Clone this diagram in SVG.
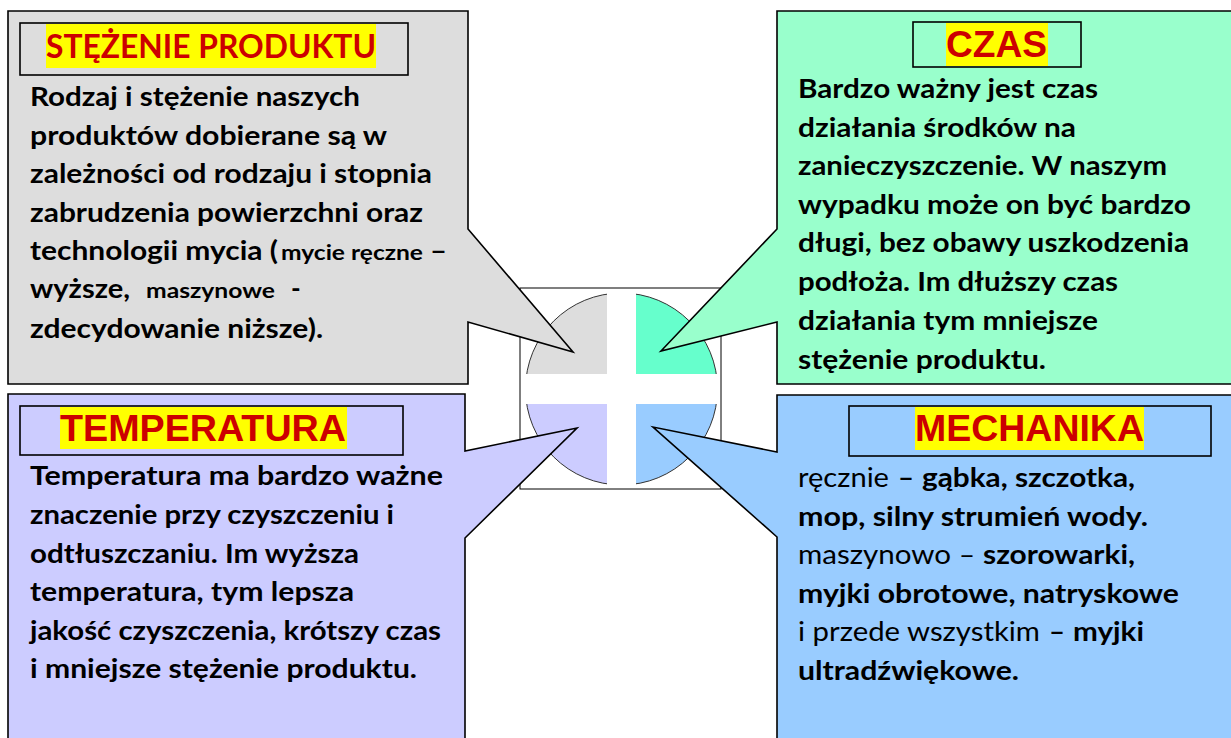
<svg xmlns="http://www.w3.org/2000/svg" width="1231" height="738" viewBox="0 0 1231 738">
<style>
.box{stroke:#000;stroke-width:1.6;stroke-linejoin:miter}
.hdr{fill:none;stroke:#000;stroke-width:1.6}
.hl{fill:#ffff00}
.t{font-family:"Liberation Sans",Arial,sans-serif;font-weight:bold;font-size:37px;fill:#cc0000}
.tc{font-family:Lato,"Open Sans",sans-serif;font-weight:bold;font-size:32px;fill:#cc0000}
.b{font-family:Lato,"Open Sans",sans-serif;font-weight:bold;font-size:26px;fill:#000}
.s{font-family:Lato,"Open Sans",sans-serif;font-weight:bold;font-size:21px;fill:#000}
.r{font-family:Lato,"Open Sans",sans-serif;font-weight:normal;font-size:26px;fill:#000}
</style>
<defs>
<clipPath id="clipG"><rect x="777" y="11" width="460" height="362"/></clipPath>
</defs>
<rect width="1231" height="738" fill="#fff"/>
<g id="center">
<rect x="520" y="288" width="201" height="201" fill="#fff" stroke="#000" stroke-width="1"/>
<path d="M621.5,389 L525.5,389 A96,96 0 0 1 621.5,293 Z" fill="#dddddd"/>
<path d="M621.5,389 L621.5,293 A96,96 0 0 1 717.5,389 Z" fill="#66ffcc"/>
<path d="M621.5,389 L525.5,389 A96,96 0 0 0 621.5,485 Z" fill="#ccccff"/>
<path d="M621.5,389 L621.5,485 A96,96 0 0 0 717.5,389 Z" fill="#99ccff"/>
<circle cx="621.5" cy="389" r="96" fill="none" stroke="#333" stroke-width="1"/>
<rect x="607" y="290" width="29" height="198" fill="#fff"/>
<rect x="522" y="374" width="198" height="30" fill="#fff"/>
</g>
<g id="connectors"></g>
<g id="node-stezenie">
<path class="box" fill="#dddddd" d="M8,11 H468 V229 L573,352 L468,322 V384 H8 Z"/>
<rect class="hdr" x="20" y="23" width="388" height="52"/>
<rect class="hl" x="46" y="24" width="330" height="44"/>
<text class="tc" x="46" y="58" textLength="330" lengthAdjust="spacingAndGlyphs">STĘŻENIE PRODUKTU</text>
<text class="b" x="30" y="106" textLength="330" lengthAdjust="spacingAndGlyphs">Rodzaj i stężenie naszych</text>
<text class="b" x="30" y="145" textLength="357" lengthAdjust="spacingAndGlyphs">produktów dobierane są w</text>
<text class="b" x="30" y="183" textLength="402" lengthAdjust="spacingAndGlyphs">zależności od rodzaju i stopnia</text>
<text class="b" x="30" y="222" textLength="393" lengthAdjust="spacingAndGlyphs">zabrudzenia powierzchni oraz</text>
<text class="b" x="30" y="260" textLength="248" lengthAdjust="spacingAndGlyphs">technologii mycia (</text>
<text class="s" x="281" y="260" textLength="142" lengthAdjust="spacingAndGlyphs">mycie ręczne</text>
<text class="b" x="430" y="260" textLength="17" lengthAdjust="spacingAndGlyphs">–</text>
<text class="b" x="30" y="298" textLength="100" lengthAdjust="spacingAndGlyphs">wyższe,</text>
<text class="s" x="146" y="298" textLength="129" lengthAdjust="spacingAndGlyphs">maszynowe</text>
<text class="b" x="291" y="298">-</text>
<text class="b" x="30" y="338" textLength="293" lengthAdjust="spacingAndGlyphs">zdecydowanie niższe).</text>
</g>
<g id="node-czas">
<path class="box" fill="#99ffcc" d="M777,11 H1240 V384 H777 V322 L661,351 L777,229 Z"/>
<rect class="hdr" x="913" y="22" width="168" height="45"/>
<rect class="hl" x="946" y="23" width="102" height="43"/>
<text class="t" x="946" y="57" textLength="101" lengthAdjust="spacingAndGlyphs">CZAS</text>
<g clip-path="url(#clipG)">
<text class="b" x="798" y="98" textLength="300" lengthAdjust="spacingAndGlyphs">Bardzo ważny jest czas</text>
<text class="b" x="798" y="137" textLength="278" lengthAdjust="spacingAndGlyphs">działania środków na</text>
<text class="b" x="798" y="175" textLength="369" lengthAdjust="spacingAndGlyphs">zanieczyszczenie. W naszym</text>
<text class="b" x="798" y="214" textLength="393" lengthAdjust="spacingAndGlyphs">wypadku może on być bardzo</text>
<text class="b" x="798" y="252" textLength="391" lengthAdjust="spacingAndGlyphs">długi, bez obawy uszkodzenia</text>
<text class="b" x="798" y="291" textLength="320" lengthAdjust="spacingAndGlyphs">podłoża. Im dłuższy czas</text>
<text class="b" x="798" y="330" textLength="300" lengthAdjust="spacingAndGlyphs">działania tym mniejsze</text>
<text class="b" x="798" y="369" textLength="248" lengthAdjust="spacingAndGlyphs">stężenie produktu.</text>
</g>
</g>
<g id="node-temperatura">
<path class="box" fill="#ccccff" d="M8,394 H465 V451 L577,428 L465,538 V745 H8 Z"/>
<rect class="hdr" x="20" y="406" width="383" height="49"/>
<rect class="hl" x="60" y="407" width="287" height="42"/>
<text class="t" x="60" y="441" textLength="286" lengthAdjust="spacingAndGlyphs">TEMPERATURA</text>
<text class="b" x="30" y="485" textLength="413" lengthAdjust="spacingAndGlyphs">Temperatura ma bardzo ważne</text>
<text class="b" x="30" y="524" textLength="364" lengthAdjust="spacingAndGlyphs">znaczenie przy czyszczeniu i</text>
<text class="b" x="30" y="563" textLength="329" lengthAdjust="spacingAndGlyphs">odtłuszczaniu. Im wyższa</text>
<text class="b" x="30" y="601" textLength="324" lengthAdjust="spacingAndGlyphs">temperatura, tym lepsza</text>
<text class="b" x="30" y="640" textLength="411" lengthAdjust="spacingAndGlyphs">jakość czyszczenia, krótszy czas</text>
<text class="b" x="30" y="678" textLength="387" lengthAdjust="spacingAndGlyphs">i mniejsze stężenie produktu.</text>
</g>
<g id="node-mechanika">
<path class="box" fill="#99ccff" d="M777,395 H1240 V745 H777 V537 L653,427 L777,452 Z"/>
<rect class="hdr" x="849" y="406" width="362" height="50"/>
<rect class="hl" x="915" y="407" width="229" height="43"/>
<text class="t" x="915" y="441" textLength="229" lengthAdjust="spacingAndGlyphs">MECHANIKA</text>
<text class="r" x="798" y="487" textLength="91" lengthAdjust="spacingAndGlyphs">ręcznie</text>
<text class="b" x="898" y="487" textLength="16" lengthAdjust="spacingAndGlyphs">–</text>
<text class="b" x="922" y="487" textLength="213" lengthAdjust="spacingAndGlyphs">gąbka, szczotka,</text>
<text class="b" x="798" y="526" textLength="350" lengthAdjust="spacingAndGlyphs">mop, silny strumień wody.</text>
<text class="r" x="798" y="564" textLength="153" lengthAdjust="spacingAndGlyphs">maszynowo</text>
<text class="r" x="959" y="564" textLength="16" lengthAdjust="spacingAndGlyphs">–</text>
<text class="b" x="983" y="564" textLength="152" lengthAdjust="spacingAndGlyphs">szorowarki,</text>
<text class="b" x="798" y="603" textLength="381" lengthAdjust="spacingAndGlyphs">myjki obrotowe, natryskowe</text>
<text class="r" x="798" y="641" textLength="242" lengthAdjust="spacingAndGlyphs">i przede wszystkim</text>
<text class="b" x="1049" y="641" textLength="16" lengthAdjust="spacingAndGlyphs">–</text>
<text class="b" x="1073" y="641" textLength="71" lengthAdjust="spacingAndGlyphs">myjki</text>
<text class="b" x="798" y="680" textLength="221" lengthAdjust="spacingAndGlyphs">ultradźwiękowe.</text>
</g>
</svg>
